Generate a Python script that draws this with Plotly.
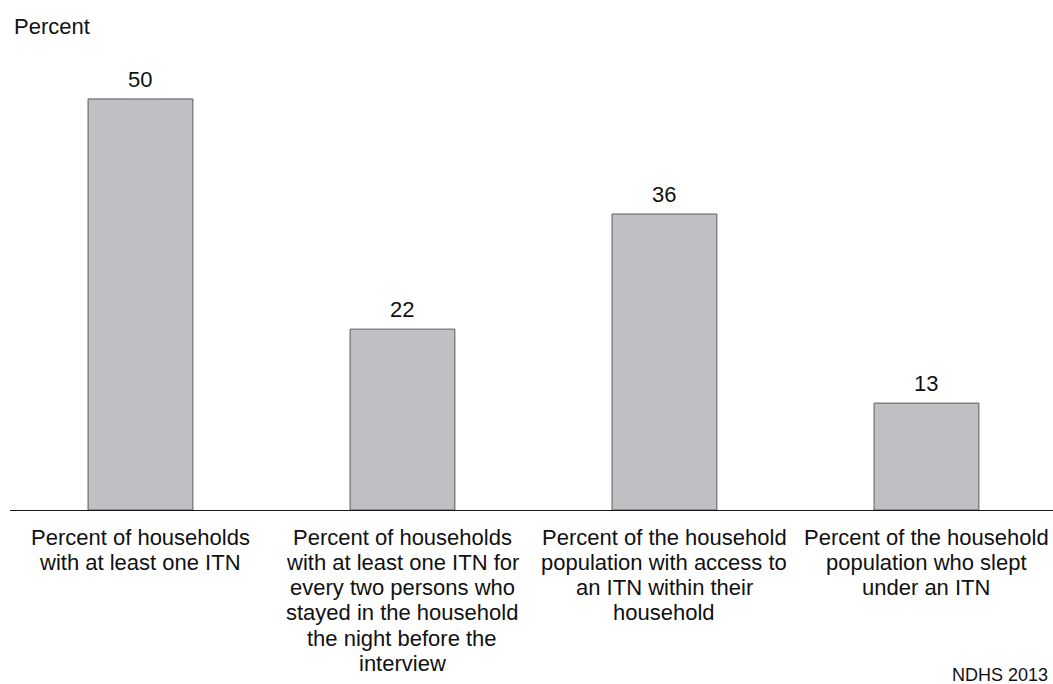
import plotly.graph_objects as go

# ITN ownership and use indicators, NDHS 2013
categories = [
    "Percent of households<br>with at least one ITN",
    "Percent of households<br>with at least one ITN for<br>every two persons who<br>stayed in the household<br>the night before the<br>interview",
    "Percent of the household<br>population with access to<br>an ITN within their<br>household",
    "Percent of the household<br>population who slept<br>under an ITN",
]
values = [50, 22, 36, 13]
y_title = "Percent"
source_note = "NDHS 2013"

FONT = "Liberation Sans, Arial, sans-serif"
BAR_FILL = "#bfc0c4"
BAR_EDGE = "#5a5a5a"
TEXT = "#111111"

x_pos = list(range(len(categories)))

fig = go.Figure(
    go.Bar(
        x=x_pos,
        y=values,
        width=0.4,
        marker=dict(color=BAR_FILL, line=dict(color=BAR_EDGE, width=1)),
        hoverinfo="skip",
    )
)

annotations = []

# value labels above each bar
for xi, v in zip(x_pos, values):
    annotations.append(dict(
        x=xi, y=v, xref="x", yref="y", text=str(v), showarrow=False,
        xanchor="center", yanchor="bottom", yshift=5,
        font=dict(family=FONT, size=22, color=TEXT),
    ))

# category labels, one annotation per line for tight line spacing
LINE_STEP = 25.3
for xi, label in zip(x_pos, categories):
    for k, line in enumerate(label.split("<br>")):
        annotations.append(dict(
            x=xi, y=0, xref="x", yref="paper", text=line, showarrow=False,
            xanchor="center", yanchor="top", yshift=-(12.5 + LINE_STEP * k),
            font=dict(family=FONT, size=22, color=TEXT),
        ))

annotations.append(dict(
    x=0, y=1, xref="paper", yref="paper", text=y_title, showarrow=False,
    xanchor="left", yanchor="top", xshift=2.3, yshift=7.7,
    font=dict(family=FONT, size=22, color=TEXT),
))

annotations.append(dict(
    x=1, y=0, xref="paper", yref="paper", text=source_note, showarrow=False,
    xanchor="right", yanchor="top", xshift=-3, yshift=-152.7,
    font=dict(family=FONT, size=18, color=TEXT),
))

fig.update_layout(
    width=1053,
    height=684,
    margin=dict(l=10, r=0, t=20, b=174),
    paper_bgcolor="white",
    plot_bgcolor="white",
    showlegend=False,
    annotations=annotations,
    xaxis=dict(
        range=[-0.498, 3.483],
        showticklabels=False,
        ticks="",
        showgrid=False,
        zeroline=False,
        showline=True,
        linecolor="#1a1a1a",
        linewidth=1,
        fixedrange=True,
    ),
    yaxis=dict(
        range=[0, 59.6],
        visible=False,
        showgrid=False,
        zeroline=False,
        fixedrange=True,
    ),
)

fig.write_html("out.html")
